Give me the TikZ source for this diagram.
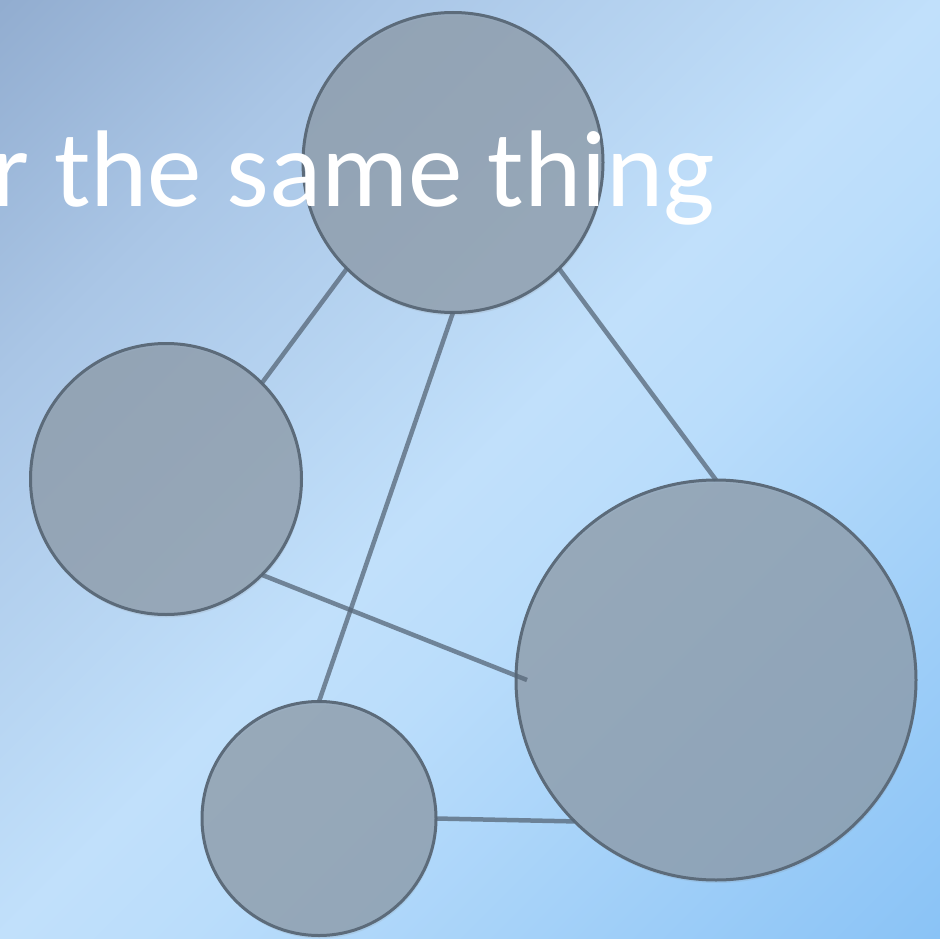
\documentclass[tikz,border=0pt]{standalone}
\usepackage{fontspec}
\setmainfont{Carlito}
\usetikzlibrary{shadows}
\definecolor{bgTL}{RGB}{146,173,208}
\definecolor{bgA}{RGB}{170,198,230}
\definecolor{bgMid}{RGB}{193,224,251}
\definecolor{bgB}{RGB}{186,221,251}
\definecolor{bgBR}{RGB}{138,195,246}
\definecolor{discfill}{RGB}{140,154,168}
\definecolor{discedge}{RGB}{92,107,122}
\definecolor{linkcol}{RGB}{86,102,119}
\pgfdeclarehorizontalshading{bgshade}{100bp}{color(0bp)=(bgTL); color(14.6bp)=(bgTL); color(29bp)=(bgA); color(50bp)=(bgMid); color(57bp)=(bgB); color(85.4bp)=(bgBR); color(100bp)=(bgBR)}
\tikzset{
  disc/.style={circle, draw=discedge, line width=3pt, fill=discfill, fill opacity=0.72,
    draw opacity=1, inner sep=0pt, outer sep=0pt, minimum size=#1,
    drop shadow={opacity=0.15, shadow xshift=1pt, shadow yshift=-3pt}},
  link/.style={draw=linkcol, line width=4.5pt, draw opacity=0.75},
  title/.style={text=white, font=\fontsize{109}{130}\selectfont, inner sep=0pt, anchor=base east}
}
\begin{document}
\begin{tikzpicture}[x=1pt,y=-1pt]
\useasboundingbox (0,0) rectangle (940,939);
\shade[shading=bgshade, shading angle=-45] (0,0) rectangle (940,939);
\node[disc=300pt] (top) at (453,162.5) {};
\node[disc=271pt] (left) at (166,479) {};
\node[disc=400pt] (right) at (716,680) {};
\node[disc=234pt] (bot) at (319,818.5) {};
\coordinate (rin) at (527,680);
\draw[link] (top.225) -- (left.45);
\draw[link] (top.270) -- (bot.90);
\draw[link] (top.315) -- (right.90);
\draw[link] (left.315) -- (rin);
\draw[link] (bot.0) -- (right.225);
\node[title] (txt) at (715,206) {r the same thing};
\end{tikzpicture}
\end{document}
